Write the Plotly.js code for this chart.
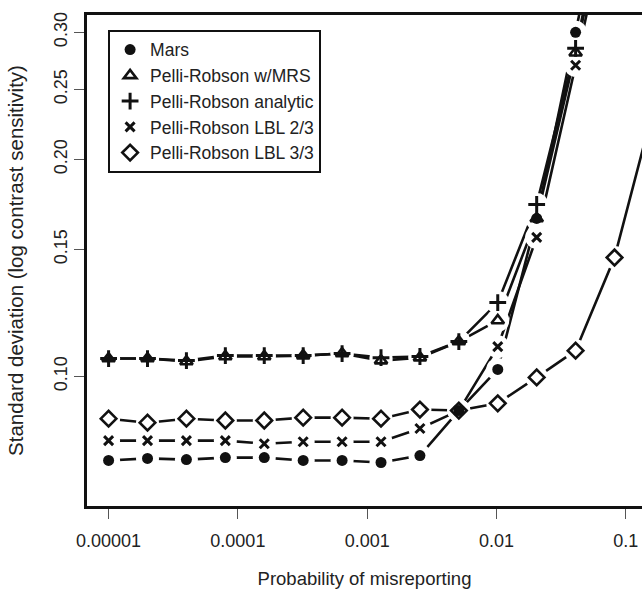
<!DOCTYPE html>
<html>
<head>
<meta charset="utf-8">
<script src="https://cdn.plot.ly/plotly-3.0.1.min.js"></script>
<style>html,body{margin:0;padding:0;overflow:hidden;background:#fff}#chart{width:642px;height:595px}</style>
</head>
<body>
<div id="chart"></div>
<script>
// Probability of misreporting (doubling steps from 0.00001)
const prob = [0.00001, 0.00002, 0.00004, 0.00008, 0.00016, 0.00032, 0.00064, 0.00128, 0.00256, 0.00512, 0.01024, 0.02048, 0.04096, 0.08192, 0.16384];

const seriesNames = ["Mars", "Pelli-Robson w/MRS", "Pelli-Robson analytic", "Pelli-Robson LBL 2/3", "Pelli-Robson LBL 3/3"];

const mars       = [0.0765, 0.0770, 0.0767, 0.0772, 0.0772, 0.0765, 0.0765, 0.0760, 0.0777, 0.0897, 0.1023, 0.1656, 0.300, 0.55];
const prMRS      = [0.1059, 0.1059, 0.1049, 0.1066, 0.1066, 0.1069, 0.1076, 0.1052, 0.1062, 0.1118, 0.1196, 0.1656, 0.281, 0.50];
const prAnalytic = [0.1059, 0.1059, 0.1052, 0.1069, 0.1069, 0.1069, 0.1076, 0.1062, 0.1066, 0.1118, 0.1266, 0.1732, 0.285, 0.51];
const prLBL23    = [0.0815, 0.0815, 0.0815, 0.0815, 0.0807, 0.0812, 0.0812, 0.0812, 0.0847, 0.0897, 0.1100, 0.1559, 0.270, 0.48];
const prLBL33    = [0.0874, 0.0863, 0.0874, 0.0869, 0.0869, 0.0877, 0.0877, 0.0874, 0.0900, 0.0897, 0.0918, 0.0997, 0.1086, 0.1462, 0.235];

const xTickVals = [0.00001, 0.0001, 0.001, 0.01, 0.1];
const xTickText = ["0.00001", "0.0001", "0.001", "0.01", "0.1"];
const yTickVals = [0.10, 0.15, 0.20, 0.25, 0.30];
const yTickText = ["0.10", "0.15", "0.20", "0.25", "0.30"];

const allSeries = [mars, prMRS, prAnalytic, prLBL23, prLBL33];
const symbols = [
  {symbol: "circle", size: 11, lw: 0},
  {symbol: "triangle-up-open", size: 11, lw: 2.6},
  {symbol: "cross-thin-open", size: 12, lw: 3},
  {symbol: "x-thin-open", size: 9, lw: 3},
  {symbol: "diamond-open", size: 12, lw: 2.6}
];
const ink = "#111";

const traces = [];
allSeries.forEach((ys, i) => {
  traces.push({x: prob.slice(0, ys.length), y: ys, type: "scatter", mode: "lines",
    line: {color: ink, width: 2.6}, showlegend: false, hoverinfo: "skip"});
});
allSeries.forEach((ys, i) => {
  traces.push({x: prob.slice(0, ys.length), y: ys, type: "scatter", mode: "markers",
    marker: {symbol: "circle", size: 23, color: "#fff", line: {width: 0}}, showlegend: false, hoverinfo: "skip"});
});
allSeries.forEach((ys, i) => {
  const s = symbols[i];
  traces.push({x: prob.slice(0, ys.length), y: ys, type: "scatter", mode: "markers", name: seriesNames[i],
    marker: {symbol: s.symbol, size: s.size, color: ink, line: {color: ink, width: s.lw}}});
});

const layout = {
  width: 642, height: 595,
  margin: {l: 87, r: 0, t: 15, b: 89},
  paper_bgcolor: "#fff", plot_bgcolor: "#fff",
  font: {family: "Liberation Sans, Arial, sans-serif", color: "#222"},
  showlegend: true,
  legend: {x: 0.038, y: 0.97, xanchor: "left", yanchor: "top",
    bordercolor: ink, borderwidth: 2, bgcolor: "#fff",
    font: {size: 17.5, color: "#222"}, tracegroupgap: 0, itemwidth: 30},
  xaxis: {type: "log", range: [-5.167, -0.874], tickvals: xTickVals, ticktext: xTickText,
    ticks: "outside", ticklen: 10, tickwidth: 1, tickcolor: "#555", ticklabelstandoff: 6,
    showline: true, linecolor: ink, linewidth: 3, mirror: true, showgrid: false, zeroline: false,
    tickfont: {size: 18, color: "#222"},
    title: {text: "Probability of misreporting", font: {size: 18.5, color: "#222"}, standoff: 23}},
  yaxis: {type: "log", range: [-1.1795, -0.4989], tickvals: yTickVals, ticktext: yTickText,
    ticks: "outside", ticklen: 10, tickwidth: 1, tickcolor: "#555", tickangle: -90,
    showline: true, linecolor: ink, linewidth: 3, mirror: false, showgrid: false, zeroline: false,
    tickfont: {size: 18, color: "#222"},
    title: {text: "Standard deviation (log contrast sensitivity)", font: {size: 20.5, color: "#222"}, standoff: 22}}
};

Plotly.newPlot("chart", traces, layout, {displayModeBar: false, staticPlot: true});
</script>
</body>
</html>
